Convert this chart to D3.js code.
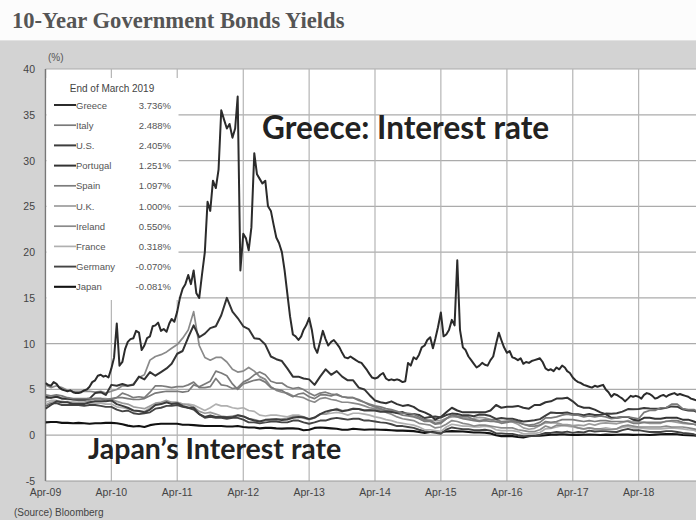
<!DOCTYPE html>
<html><head><meta charset="utf-8">
<script src="https://cdn.jsdelivr.net/npm/d3@7"></script>
<style>html,body{margin:0;padding:0;background:#fff;}svg{display:block;}</style>
</head><body>
<svg id="chart" width="696" height="520"></svg>
<script>
// ---------------- DATA ----------------
const title = "10-Year Government Bonds Yields";
const legendTitle = "End of March 2019";
const countries = ["Greece","Italy","U.S.","Portugal","Spain","U.K.","Ireland","France","Germany","Japan"];
const endValues = ["3.736%","2.488%","2.405%","1.251%","1.097%","1.000%","0.550%","0.318%","-0.070%","-0.081%"];
const xTickLabels = ["Apr-09","Apr-10","Apr-11","Apr-12","Apr-13","Apr-14","Apr-15","Apr-16","Apr-17","Apr-18"];
const yTicks = [-5,0,5,10,15,20,25,30,35,40];

// Greece: twice a month, Apr 2009 .. Mar 2019
const greece = [
 5.7,5.5, 5.4,5.8, 5.6,5.2, 5.0,4.9, 4.8,4.9, 4.7,4.6, 4.6,4.7, 4.9,5.0, 5.3,5.8,
 6.0,6.5, 6.6,6.4, 6.5,6.3, 7.3,8.5, 12.2,7.6, 8.0,9.4, 10.2,10.5, 10.6,11.4, 11.2,9.3, 9.8,10.6, 10.8,11.9, 12.0,12.3,
 11.4,11.6, 11.3,12.2, 12.7,12.4, 13.5,15.0, 16.0,16.5, 17.5,16.5, 18.0,15.5, 15.0,17.5, 20.0,25.5, 24.5,27.8, 27.0,29.0, 35.5,34.5,
 33.5,34.0, 32.5,33.5, 37.0,18.0, 22.0,21.5, 20.2,22.7, 30.8,28.5, 28.0,27.5, 27.8,25.0, 24.5,23.0, 21.6,21.0, 20.0,18.0, 15.5,13.0,
 11.0,10.8, 10.4,10.8, 11.5,12.0, 12.8,11.5, 9.6,9.0, 10.2,11.4, 10.5,9.8, 10.2,10.4, 10.0,9.6, 9.0,8.5, 8.4,8.6, 8.4,8.2,
 8.0,7.9, 7.5,7.1, 6.7,6.3, 6.2,6.3, 6.6,6.8, 6.2,6.0, 6.1,6.0, 6.1,6.0, 5.8,5.9, 7.9,7.6, 8.5,8.3, 8.8,9.6,
 9.8,10.4, 10.7,9.5, 10.5,11.8, 13.4,10.8, 11.0,11.5, 12.6,12.0, 19.1,11.5, 9.6,9.3, 8.6,8.2, 7.8,7.4, 7.6,7.9, 7.7,7.6,
 8.2,8.6, 10.0,11.2, 10.4,9.6, 9.0,9.2, 8.5,8.4, 8.2,8.4, 7.8,8.0, 7.9,8.1, 8.2,8.3, 8.4,8.0, 7.3,7.1, 7.2,7.0,
 7.4,7.2, 7.6,7.4, 7.0,6.8, 6.3,6.0, 5.8,5.7, 5.5,5.4, 5.3,5.2, 5.4,5.3, 5.4,5.5, 5.0,4.7, 4.2,4.5, 4.4,4.2,
 4.0,3.7, 4.0,4.3, 4.2,4.3, 4.2,4.0, 4.4,4.6, 4.5,4.3, 4.0,4.1, 4.3,4.4, 4.2,4.4, 4.5,4.6, 4.4,4.5, 4.4,4.3,
 4.2,4.0, 3.9,3.8, 3.8,3.7
];
// Others: monthly, Apr 2009 .. Mar 2019
const italy = [
 4.4,4.3,4.4,4.3,4.1,4.0,4.0,4.0,4.0,
 4.0,4.0,3.9,4.0,4.1,4.1,4.0,3.9,3.9,4.0,4.3,4.6,
 4.7,4.8,4.8,4.8,4.7,4.8,5.5,5.3,5.6,5.9,7.0,6.8,
 6.5,5.6,5.0,5.6,5.8,6.0,6.1,5.8,5.2,5.0,4.9,4.5,
 4.2,4.5,4.6,4.2,4.0,4.4,4.4,4.3,4.5,4.2,4.1,4.1,
 3.9,3.6,3.4,3.2,3.1,2.9,2.8,2.6,2.4,2.4,2.3,2.0,
 1.7,1.6,1.3,1.4,1.8,2.2,2.0,1.8,1.7,1.6,1.5,1.6,
 1.5,1.5,1.3,1.4,1.5,1.4,1.2,1.1,1.2,1.4,1.9,1.9,
 2.0,2.2,2.3,2.2,2.2,2.0,2.1,2.0,2.1,2.0,1.8,1.9,
 2.0,2.0,1.9,1.8,2.5,2.7,2.7,3.0,3.0,3.4,3.4,2.9,
 2.8,2.8,2.5
];
const us = [
 2.9,3.3,3.7,3.6,3.6,3.4,3.4,3.4,3.6,
 3.7,3.7,3.7,3.8,3.4,3.2,3.0,2.7,2.65,2.5,2.8,3.3,
 3.4,3.6,3.4,3.5,3.2,3.0,3.0,2.3,2.0,2.15,2.0,1.98,
 1.97,1.97,2.17,2.05,1.8,1.6,1.5,1.68,1.72,1.75,1.65,1.72,
 1.91,1.98,1.96,1.76,1.93,2.3,2.58,2.74,2.81,2.62,2.72,2.9,
 2.86,2.71,2.72,2.71,2.56,2.6,2.54,2.42,2.53,2.3,2.33,2.21,
 1.88,1.98,2.04,1.94,2.2,2.36,2.32,2.17,2.17,2.07,2.26,2.24,
 2.09,1.78,1.89,1.81,1.81,1.64,1.5,1.56,1.63,1.76,2.14,2.49,
 2.43,2.42,2.48,2.3,2.3,2.19,2.32,2.21,2.2,2.36,2.35,2.4,
 2.58,2.86,2.84,2.87,2.98,2.91,2.89,2.89,3.0,3.15,3.12,2.83,
 2.71,2.68,2.41
];
const portugal = [
 4.2,4.1,4.2,4.0,4.0,3.9,3.9,3.9,4.0,
 4.6,4.7,4.4,5.5,5.4,5.6,5.4,5.5,6.4,6.1,6.9,6.5,
 6.9,7.3,7.8,8.9,9.2,10.7,12.0,10.7,11.1,11.7,11.9,13.1,
 15.0,13.5,12.8,11.9,11.6,10.6,10.5,9.9,8.6,8.3,8.1,7.3,
 6.4,6.4,6.2,6.1,5.5,6.4,7.2,6.6,7.0,6.4,6.0,6.0,
 5.2,5.0,4.4,3.8,3.6,3.5,3.7,3.4,3.2,3.3,3.1,2.7,
 2.5,2.2,1.7,2.0,2.5,3.0,2.7,2.5,2.5,2.5,2.5,2.5,
 2.7,3.3,3.0,3.1,3.1,3.2,3.0,2.9,3.3,3.3,3.6,3.7,
 4.0,4.0,4.1,3.7,3.2,3.0,3.0,2.8,2.5,2.3,1.9,1.9,
 2.0,2.0,1.7,1.6,1.9,1.9,1.8,1.8,1.9,1.9,1.9,1.7,
 1.7,1.5,1.25
];
const spain = [
 4.0,4.1,4.3,4.0,3.9,3.9,3.8,3.8,3.9,
 4.0,4.0,3.8,3.9,4.1,4.6,4.4,4.1,4.2,4.1,4.7,5.4,
 5.4,5.3,5.2,5.3,5.3,5.5,5.8,5.2,5.2,5.3,6.2,5.5,
 5.4,5.1,5.2,5.8,6.1,6.6,6.9,6.6,5.9,5.7,5.7,5.3,
 5.1,5.2,5.0,4.6,4.3,4.6,4.7,4.5,4.4,4.2,4.1,4.1,
 3.8,3.6,3.3,3.1,2.9,2.7,2.7,2.4,2.2,2.1,2.0,1.8,
 1.5,1.5,1.2,1.3,1.8,2.2,2.1,2.0,2.0,1.7,1.6,1.7,
 1.7,1.7,1.5,1.5,1.6,1.5,1.2,1.0,1.0,1.1,1.5,1.4,
 1.5,1.7,1.7,1.7,1.6,1.5,1.6,1.5,1.6,1.6,1.5,1.5,
 1.5,1.5,1.3,1.3,1.4,1.4,1.4,1.4,1.5,1.6,1.6,1.4,
 1.3,1.2,1.1
];
const uk = [
 3.3,3.6,3.7,3.7,3.6,3.6,3.6,3.6,3.8,
 4.0,4.0,4.0,3.9,3.7,3.5,3.4,3.1,3.0,2.9,3.2,3.5,
 3.6,3.8,3.6,3.6,3.4,3.3,3.1,2.6,2.4,2.5,2.3,2.1,
 2.0,2.1,2.2,2.1,1.8,1.7,1.55,1.5,1.7,1.75,1.8,1.85,
 2.05,2.1,1.85,1.7,1.9,2.3,2.3,2.7,2.9,2.7,2.75,2.9,
 2.85,2.75,2.75,2.7,2.65,2.7,2.6,2.45,2.5,2.2,2.1,1.85,
 1.55,1.65,1.6,1.6,1.85,2.0,2.0,1.85,1.8,1.85,1.95,1.9,
 1.7,1.45,1.45,1.55,1.45,1.2,0.8,0.65,0.75,1.05,1.35,1.35,
 1.35,1.2,1.15,1.05,1.1,1.05,1.25,1.1,1.3,1.35,1.3,1.25,
 1.4,1.6,1.45,1.45,1.4,1.3,1.3,1.3,1.55,1.5,1.4,1.3,
 1.25,1.2,1.0
];
const ireland = [
 5.5,5.2,5.4,5.2,4.9,4.8,4.8,4.8,4.8,
 4.7,4.8,4.6,4.8,5.0,5.4,5.4,5.6,6.3,6.6,8.2,8.6,
 8.8,9.1,9.5,9.9,10.6,11.5,13.5,9.8,8.5,8.2,8.5,8.5,
 8.0,7.2,6.9,7.0,7.4,7.0,6.4,6.1,5.3,4.9,4.7,4.6,
 4.3,4.2,4.1,3.8,3.6,4.0,4.1,3.9,3.8,3.6,3.6,3.5,
 3.4,3.2,3.0,2.9,2.8,2.5,2.3,2.0,1.8,1.7,1.6,1.3,
 1.2,1.1,0.8,0.9,1.2,1.6,1.5,1.3,1.2,1.0,1.1,1.1,
 1.0,0.9,0.8,0.8,0.8,0.6,0.5,0.4,0.4,0.6,1.0,0.8,
 1.1,1.1,1.1,1.0,0.8,0.7,0.8,0.7,0.7,0.6,0.6,0.7,
 1.0,1.1,1.0,0.9,0.9,0.9,0.9,0.9,1.0,0.9,0.9,0.9,
 0.8,0.7,0.55
];
const france = [
 3.6,3.8,3.8,3.6,3.6,3.6,3.5,3.5,3.5,
 3.5,3.5,3.4,3.4,3.1,3.0,2.9,2.7,2.6,2.6,3.0,3.3,
 3.4,3.6,3.6,3.6,3.4,3.4,3.3,3.0,2.7,3.0,3.4,3.2,
 3.2,3.0,2.9,3.0,2.7,2.6,2.2,2.1,2.2,2.2,2.1,2.0,
 2.2,2.2,2.0,1.8,1.9,2.3,2.3,2.4,2.5,2.4,2.2,2.4,
 2.4,2.3,2.2,2.0,1.9,1.7,1.6,1.4,1.3,1.2,1.1,0.9,
 0.6,0.6,0.5,0.4,0.9,1.2,1.1,1.0,1.0,0.9,0.9,1.0,
 0.9,0.6,0.5,0.5,0.5,0.4,0.15,0.15,0.2,0.3,0.7,0.75,
 0.9,1.05,1.0,0.9,0.8,0.65,0.8,0.7,0.7,0.8,0.7,0.7,
 0.85,0.95,0.8,0.8,0.75,0.7,0.7,0.7,0.75,0.8,0.75,0.7,
 0.6,0.55,0.32
];
const germany = [
 3.2,3.5,3.5,3.3,3.3,3.3,3.3,3.2,3.3,
 3.3,3.2,3.1,3.1,2.8,2.6,2.7,2.4,2.3,2.4,2.5,2.9,
 3.0,3.2,3.2,3.3,3.1,3.0,2.8,2.3,1.9,2.0,1.9,1.9,
 1.8,1.9,1.9,1.7,1.4,1.4,1.3,1.4,1.5,1.5,1.4,1.4,
 1.6,1.6,1.4,1.25,1.4,1.6,1.6,1.8,1.9,1.8,1.7,1.8,
 1.8,1.6,1.6,1.5,1.4,1.35,1.2,1.0,1.0,0.9,0.8,0.6,
 0.45,0.35,0.25,0.15,0.6,0.85,0.75,0.65,0.65,0.55,0.55,0.6,
 0.5,0.2,0.2,0.15,0.15,0.0,-0.1,-0.1,-0.1,0.05,0.25,0.25,
 0.35,0.3,0.4,0.25,0.35,0.3,0.5,0.4,0.45,0.45,0.37,0.35,
 0.55,0.7,0.55,0.55,0.45,0.35,0.35,0.35,0.45,0.45,0.35,0.25,
 0.2,0.1,-0.07
];
const japan = [
 1.4,1.45,1.45,1.35,1.35,1.3,1.35,1.3,1.25,
 1.3,1.3,1.35,1.35,1.3,1.2,1.05,0.95,1.0,0.9,1.1,1.2,
 1.25,1.25,1.25,1.25,1.15,1.15,1.1,1.05,1.0,1.0,1.0,1.0,
 0.95,0.95,1.0,0.9,0.85,0.85,0.75,0.8,0.8,0.75,0.72,0.75,
 0.75,0.7,0.55,0.6,0.8,0.85,0.8,0.75,0.7,0.6,0.6,0.7,
 0.65,0.6,0.62,0.62,0.6,0.58,0.55,0.5,0.5,0.47,0.45,0.35,
 0.25,0.35,0.4,0.35,0.4,0.45,0.42,0.4,0.35,0.3,0.3,0.27,
 0.2,0.0,-0.1,-0.1,-0.1,-0.2,-0.25,-0.1,-0.05,-0.05,0.0,0.05,
 0.07,0.1,0.07,0.02,0.04,0.05,0.08,0.05,0.03,0.06,0.04,0.05,
 0.07,0.06,0.04,0.05,0.05,0.03,0.06,0.1,0.12,0.14,0.1,0.03,
 0.0,-0.03,-0.08
];
const seriesValues = [greece, italy, us, portugal, spain, uk, ireland, france, germany, japan];
const seriesColors = ["#2b2b2b","#7a7a7a","#3d3d3d","#333333","#7c7c7c","#9c9c9c","#8a8a8a","#b0b0b0","#444444","#111111"];
const seriesWidths = [2.0,1.7,2.0,2.0,1.7,1.7,1.7,1.7,1.9,2.1];

// ---------------- CHART ----------------
const svg = d3.select("#chart");
const W = 696, H = 520;
const plot = {left: 45.5, top: 69, bottom: 481, right: 704.5};

svg.append("rect").attr("width", W).attr("height", H).attr("fill", "#fcfcfc");
svg.append("rect").attr("x", 0).attr("y", 40).attr("width", W).attr("height", H - 40).attr("fill", "#d3d3d3");
svg.append("line").attr("x1", 0).attr("x2", W).attr("y1", 40.5).attr("y2", 40.5).attr("stroke", "#e2e2e2");

svg.append("text").attr("x", 12).attr("y", 28).text(title)
  .attr("font-family", "'Liberation Serif','Times New Roman',serif").attr("font-weight", "bold")
  .attr("font-size", 22.6).attr("fill", "#555");

const start = new Date(2009, 3, 1);
const x = d3.scaleTime().domain([start, new Date(2019, 3, 1)]).range([plot.left, plot.right]);
const y = d3.scaleLinear().domain([-5, 40]).range([plot.bottom, plot.top]);

svg.append("rect").attr("x", plot.left).attr("y", plot.top)
  .attr("width", W - plot.left).attr("height", plot.bottom - plot.top).attr("fill", "#fff");

const tickDates = xTickLabels.map((d, i) => new Date(2009 + i, 3, 1));

// grid
const grid = svg.append("g");
grid.selectAll("line.h").data(yTicks.filter(t => t > -5)).join("line")
  .attr("x1", plot.left).attr("x2", W).attr("y1", d => y(d)).attr("y2", d => y(d))
  .attr("stroke", "#ababab").attr("stroke-width", 1.2);
grid.selectAll("line.v").data(tickDates.slice(1)).join("line")
  .attr("x1", d => x(d)).attr("x2", d => x(d)).attr("y1", plot.top).attr("y2", plot.bottom)
  .attr("stroke", "#b5b5b5").attr("stroke-width", 1.2);

// axes lines
svg.append("line").attr("x1", plot.left).attr("x2", plot.left).attr("y1", plot.top).attr("y2", plot.bottom)
  .attr("stroke", "#777").attr("stroke-width", 1.5);
svg.append("line").attr("x1", plot.left).attr("x2", W).attr("y1", plot.bottom).attr("y2", plot.bottom)
  .attr("stroke", "#999").attr("stroke-width", 1.2);

// axis labels
const axisFont = "'Liberation Sans',Arial,sans-serif";
svg.append("g").selectAll("text").data(yTicks).join("text")
  .attr("x", 35).attr("y", d => y(d) + 4).attr("text-anchor", "end")
  .attr("font-family", axisFont).attr("font-size", 10.5).attr("fill", "#444").text(d => d);
svg.append("g").selectAll("text").data(tickDates).join("text")
  .attr("x", d => x(d)).attr("y", 496).attr("text-anchor", "middle")
  .attr("font-family", axisFont).attr("font-size", 10.5).attr("fill", "#444")
  .text((d, i) => xTickLabels[i]);
svg.append("text").attr("x", 48).attr("y", 61).text("(%)")
  .attr("font-family", axisFont).attr("font-size", 10).attr("fill", "#555");
svg.append("text").attr("x", 14).attr("y", 516).text("(Source)  Bloomberg")
  .attr("font-family", axisFont).attr("font-size", 10).attr("fill", "#444");

// legend box (white, hides grid)
const lg = svg.append("g");
lg.append("rect").attr("x", plot.left + 1).attr("y", 78).attr("width", 132).attr("height", 222).attr("fill", "#fff");
lg.append("text").attr("x", 112).attr("y", 92).attr("text-anchor", "middle").text(legendTitle)
  .attr("font-family", axisFont).attr("font-size", 10).attr("fill", "#444");
countries.forEach((c, i) => {
  const yy = 105 + i * 20.2;
  lg.append("line").attr("x1", 54).attr("x2", 76).attr("y1", yy).attr("y2", yy)
    .attr("stroke", seriesColors[i]).attr("stroke-width", seriesWidths[i]);
  lg.append("text").attr("x", 76).attr("y", yy + 3.5).text(c)
    .attr("font-family", axisFont).attr("font-size", 9.5).attr("fill", "#555");
  lg.append("text").attr("x", 171).attr("y", yy + 3.5).attr("text-anchor", "end").text(endValues[i])
    .attr("font-family", axisFont).attr("font-size", 9.5).attr("fill", "#555");
});

// lines
svg.append("clipPath").attr("id", "clip").append("rect")
  .attr("x", plot.left).attr("y", plot.top).attr("width", W - plot.left).attr("height", plot.bottom - plot.top);
const lines = svg.append("g").attr("clip-path", "url(#clip)");
const monthlyDate = i => d3.timeMonth.offset(start, i);
const halfMonthDate = i => new Date(2009, 3 + Math.floor(i / 2), i % 2 ? 16 : 1);
const line = d3.line().x(d => x(d[0])).y(d => y(d[1]));
for (let k = seriesValues.length - 1; k >= 0; k--) {
  const vals = seriesValues[k];
  const pts = vals.map((v, i) => [k === 0 ? halfMonthDate(i) : monthlyDate(i), v]);
  lines.append("path").attr("d", line(pts)).attr("fill", "none")
    .attr("stroke", seriesColors[k]).attr("stroke-width", seriesWidths[k]).attr("stroke-linejoin", "round");
}

// annotations
const annFont = "Lato,'Open Sans',sans-serif";
svg.append("text").attr("x", 262).attr("y", 139).text("Greece: Interest rate")
  .attr("font-family", annFont).attr("font-weight", "bold").attr("font-size", 31.5).attr("fill", "#222");
svg.append("text").attr("x", 88).attr("y", 459).text("Japan\u2019s Interest rate")
  .attr("font-family", annFont).attr("font-weight", "bold").attr("font-size", 28.5).attr("fill", "#222");
</script>
</body></html>
